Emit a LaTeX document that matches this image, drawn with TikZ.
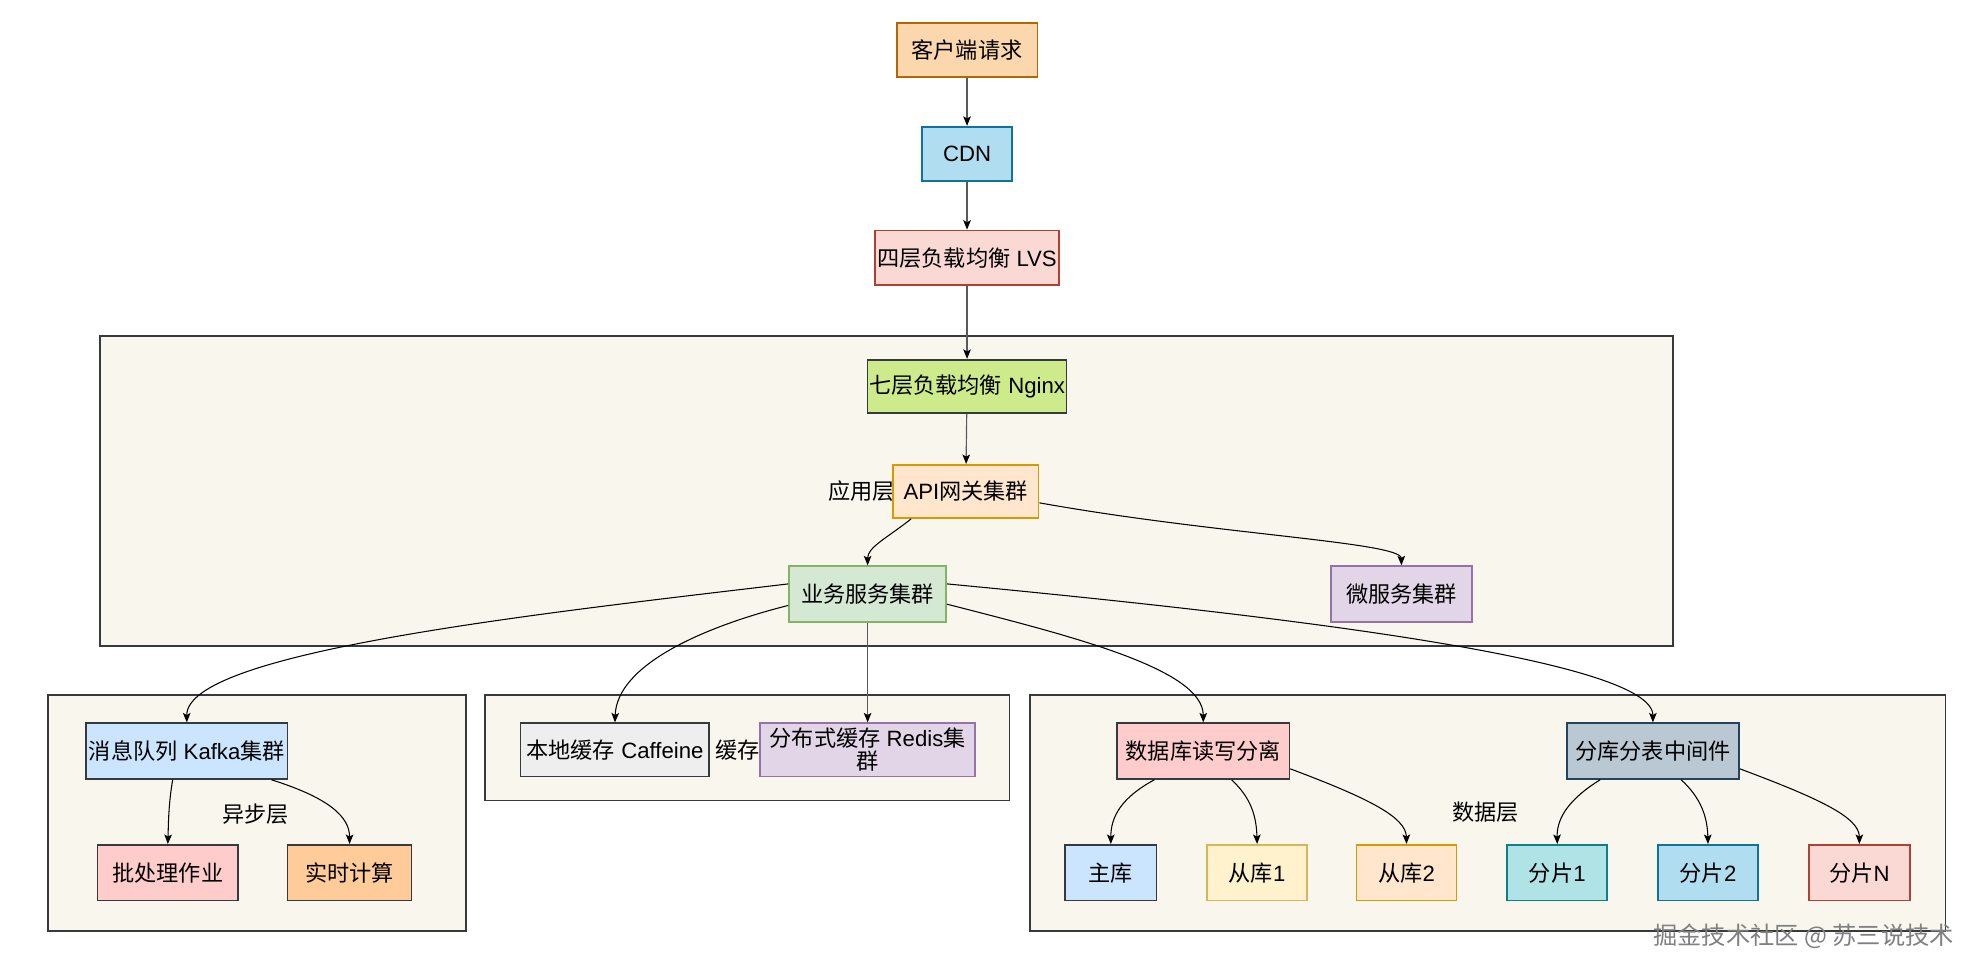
\documentclass[tikz,border=0pt]{standalone}
\usepackage{fontspec}
\setmainfont{Liberation Sans}
\newfontfamily\cjk{Noto Sans CJK SC}
\newcommand\zh[1]{{\cjk #1}}
\usetikzlibrary{arrows.meta,calc}
\definecolor{grpfill}{HTML}{F9F7ED}
\definecolor{dk}{HTML}{36393D}
\definecolor{cOrF}{HTML}{FAD7AC}\definecolor{cOrD}{HTML}{B46504}
\definecolor{cBlF}{HTML}{B1DDF0}\definecolor{cBlD}{HTML}{10739E}
\definecolor{cRdF}{HTML}{FAD9D5}\definecolor{cRdD}{HTML}{AE4132}
\definecolor{cLgF}{HTML}{CDEB8B}
\definecolor{cApF}{HTML}{FFE6CC}\definecolor{cApD}{HTML}{D79B00}
\definecolor{cGrF}{HTML}{D5E8D4}\definecolor{cGrD}{HTML}{82B366}
\definecolor{cPuF}{HTML}{E1D5E7}\definecolor{cPuD}{HTML}{9673A6}
\definecolor{cSkF}{HTML}{CCE5FF}
\definecolor{cPkF}{HTML}{FFCCCC}
\definecolor{cPeF}{HTML}{FFCC99}
\definecolor{cGyF}{HTML}{EEEEEE}
\definecolor{cStF}{HTML}{BAC8D3}\definecolor{cStD}{HTML}{23445D}
\definecolor{cYeF}{HTML}{FFF2CC}\definecolor{cYeD}{HTML}{D6B656}
\definecolor{cTeF}{HTML}{B0E3E6}\definecolor{cTeD}{HTML}{0E8088}
\tikzset{
  box/.style={draw, line width=0.8pt, inner sep=0pt, align=center, font=\fontsize{10.5}{12}\selectfont},
  grp/.style={draw=dk, fill=grpfill, line width=0.9pt},
  lbl/.style={inner sep=0pt, font=\fontsize{10.5}{12}\selectfont},
  con/.style={line width=0.5pt, black, -{Stealth[length=4.5pt,width=3.6pt,inset=1pt]}},
  scon/.style={line width=0.55pt, black!65, -{Stealth[length=4.5pt,width=3.6pt,inset=1pt,black]}},
}
\begin{document}
\begin{tikzpicture}[x=0.6pt,y=-0.6pt]
\useasboundingbox[fill=white] (0,0) rectangle (1568,770);
% groups
\draw[grp] (79,265) rectangle (1321,510);
\draw[grp] (38,549) rectangle (368,735);
\draw[grp] (383,549) rectangle (797,632);
\draw[grp] (813,549) rectangle (1536,735);
% group labels
\node[lbl] (lapp) at (680,388) {\zh{应用层}};
\node[lbl] (lasync) at (202,643) {\zh{异步层}};
\node[lbl] (lcache) at (591,592) {\zh{缓存层}};
\node[lbl] (ldata) at (1173,641) {\zh{数据层}};
% nodes
\node[box, fill=cOrF, draw=cOrD, minimum width=66.6pt, minimum height=25.8pt] (client) at (763.5,39.5) {\zh{客户端请求}};
\node[box, fill=cBlF, draw=cBlD, minimum width=42.6pt, minimum height=25.8pt] (cdn) at (763.5,121.5) {CDN};
\node[box, fill=cRdF, draw=cRdD, minimum width=87pt, minimum height=25.8pt] (lvs) at (763.5,203.5) {\zh{四层负载均衡} LVS};
\node[box, fill=cLgF, draw=dk, minimum width=94.2pt, minimum height=25.2pt] (nginx) at (763.5,305) {\zh{七层负载均衡} Nginx};
\node[box, fill=cApF, draw=cApD, minimum width=69pt, minimum height=25.2pt] (api) at (762.5,388) {API\zh{网关集群}};
\node[box, fill=cGrF, draw=cGrD, minimum width=74.4pt, minimum height=26.4pt] (biz) at (685,469) {\zh{业务服务集群}};
\node[box, fill=cPuF, draw=cPuD, minimum width=66.6pt, minimum height=26.4pt] (micro) at (1106.5,469) {\zh{微服务集群}};
\node[box, fill=cSkF, draw=dk, minimum width=95.4pt, minimum height=26.4pt] (kafka) at (147.5,593) {\zh{消息队列} Kafka\zh{集群}};
\node[box, fill=cPkF, draw=dk, minimum width=66.6pt, minimum height=26.4pt] (batch) at (132.5,689) {\zh{批处理作业}};
\node[box, fill=cPeF, draw=dk, minimum width=58.8pt, minimum height=26.4pt] (rt) at (276,689) {\zh{实时计算}};
\node[box, fill=cGyF, draw=dk, minimum width=89.4pt, minimum height=25.2pt] (caff) at (485.5,592) {\zh{本地缓存} Caffeine};
\node[box, fill=cPuF, draw=cPuD, minimum width=102pt, minimum height=25.2pt, font=\fontsize{10.5}{11}\selectfont] (redis) at (685,592) {\zh{分布式缓存} Redis\zh{集}\\\zh{群}};
\node[box, fill=cPkF, draw=dk, minimum width=81.6pt, minimum height=26.4pt] (rw) at (950,593) {\zh{数据库读写分离}};
\node[box, fill=cStF, draw=cStD, minimum width=81.6pt, minimum height=26.4pt] (shard) at (1305,593) {\zh{分库分表中间件}};
\node[box, fill=cSkF, draw=dk, minimum width=43.2pt, minimum height=26.4pt] (master) at (877,689) {\zh{主库}};
\node[box, fill=cYeF, draw=cYeD, minimum width=47.4pt, minimum height=26.4pt] (s1) at (992.5,689) {\zh{从库}1};
\node[box, fill=cApF, draw=cApD, minimum width=47.4pt, minimum height=26.4pt] (s2) at (1110.5,689) {\zh{从库}2};
\node[box, fill=cTeF, draw=cTeD, minimum width=47.4pt, minimum height=26.4pt] (p1) at (1229.5,689) {\zh{分片}1};
\node[box, fill=cBlF, draw=cBlD, minimum width=47.4pt, minimum height=26.4pt] (p2) at (1348.5,689) {\zh{分片}2};
\node[box, fill=cRdF, draw=cRdD, minimum width=48pt, minimum height=26.4pt] (pN) at (1468,689) {\zh{分片}N};
% straight connectors
\draw[scon] (client) -- (cdn);
\draw[scon] (cdn) -- (lvs);
\draw[scon] (lvs) -- (nginx);
\draw[scon] (nginx) -- (api);
\draw[scon] (biz) -- (redis);
% curved connectors
\draw[con] ($(api.south west)+(15,0)$) .. controls (700,425) and (685,432) .. (biz.north);
\draw[con] ($(api.east)+(0,9)$) .. controls (960,422) and (1106,428) .. (micro.north);
\draw[con] ($(biz.west)+(0,-8)$) .. controls (420,485) and (147,515) .. (kafka.north);
\draw[con] ($(biz.west)+(0,9)$) .. controls (555,495) and (487,525) .. (caff.north);
\draw[con] ($(biz.east)+(0,8)$) .. controls (845,502) and (950,528) .. (rw.north);
\draw[con] ($(biz.east)+(0,-8)$) .. controls (1000,485) and (1305,520) .. (shard.north);
\draw[con] ($(kafka.south west)+(69,0)$) .. controls (133,635) and (133,650) .. (batch.north);
\draw[con] ($(kafka.south west)+(147,0)$) .. controls (260,630) and (276,645) .. (rt.north);
\draw[con] ($(rw.south west)+(30,0)$) .. controls (885,630) and (877,645) .. (master.north);
\draw[con] ($(rw.south west)+(91,0)$) .. controls (988,630) and (992,645) .. (s1.north);
\draw[con] ($(rw.east)+(0,14)$) .. controls (1080,630) and (1110,645) .. (s2.north);
\draw[con] ($(shard.south west)+(27,0)$) .. controls (1240,630) and (1229,645) .. (p1.north);
\draw[con] ($(shard.south west)+(91,0)$) .. controls (1343,630) and (1348,645) .. (p2.north);
\draw[con] ($(shard.east)+(0,14)$) .. controls (1435,630) and (1468,645) .. (pN.north);
% watermark
\node[lbl, text=black!50, font=\fontsize{11.5}{13}\selectfont] (wm) at (1424,739) {\zh{掘金技术社区 @ 苏三说技术}};
\end{tikzpicture}
\end{document}
